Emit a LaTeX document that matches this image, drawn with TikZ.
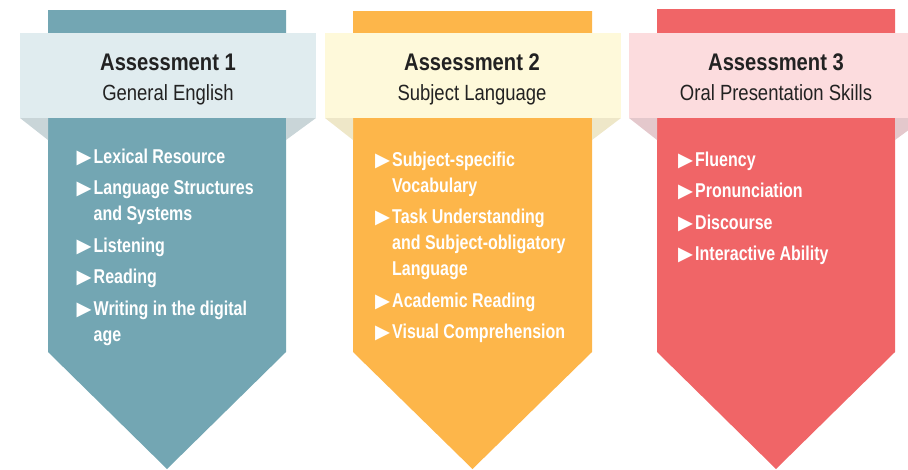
\documentclass[tikz,border=0pt]{standalone}
\usepackage{fontspec}
\setmainfont{Liberation Sans}[FakeStretch=0.84]
\newfontfamily\itemfont{Liberation Sans}[FakeStretch=0.8]
\newfontfamily\arrowfont{DejaVu Sans}
\usetikzlibrary{positioning}
\definecolor{bodyA}{HTML}{73A6B3}
\definecolor{bannerA}{HTML}{E0ECEF}
\definecolor{shadeA}{HTML}{C9D5D8}
\definecolor{bodyB}{HTML}{FDB64A}
\definecolor{bannerB}{HTML}{FEF9DA}
\definecolor{shadeB}{HTML}{EEE7C8}
\definecolor{bodyC}{HTML}{F06567}
\definecolor{bannerC}{HTML}{FCDCDE}
\definecolor{shadeC}{HTML}{E4C8CC}
\definecolor{darktext}{HTML}{222222}
\tikzset{
  head/.style={font=\bfseries\fontsize{24}{28}\selectfont,text=darktext,anchor=base},
  sub/.style={font=\fontsize{22}{26}\selectfont,text=darktext,anchor=base},
  items/.style={font=\itemfont\bfseries\fontsize{20}{26}\selectfont,text=white,align=left,
    text width=225pt,anchor=north west,inner sep=0pt},
}
% one bullet point, with the second line hanging
\newcommand{\bitem}[1]{\hangindent=17pt\hangafter=1\spaceskip=4.4pt\relax\noindent
  \makebox[17pt][l]{\arrowfont\fontsize{19.5}{26}\selectfont ▶}#1\par}

\begin{document}
\begin{tikzpicture}[x=1pt,y=-1pt]
    \clip (0,0) rectangle (908,469);
    % Assessment 1
    \fill[bodyA] (48,10) -- (286,10) -- (286,352) -- (167,469) -- (48,352) -- cycle;
    \fill[bannerA] (20,33) rectangle (316,118);
    \fill[shadeA] (20,118) -- (48,118) -- (48,140) -- cycle;
    \fill[shadeA] (286,118) -- (316,118) -- (286,140) -- cycle;
    \node[head] (head1) at (168,70) {Assessment 1};
    \node[sub] (sub1) at (168,100) {General English};
    \node[items] (list1) at (76.5,148.5) {\setlength{\parskip}{5.5pt}%
      \bitem{Lexical Resource}
      \bitem{Language Structures\newline and Systems}
      \bitem{Listening}
      \bitem{Reading}
      \bitem{Writing in the digital\newline age}};
    % Assessment 2
    \fill[bodyB] (353,11) -- (592,11) -- (592,352) -- (472.5,469) -- (353,352) -- cycle;
    \fill[bannerB] (325,33) rectangle (621,118);
    \fill[shadeB] (325,118) -- (353,118) -- (353,140) -- cycle;
    \fill[shadeB] (592,118) -- (621,118) -- (592,140) -- cycle;
    \node[head] (head2) at (472,70) {Assessment 2};
    \node[sub] (sub2) at (472,100) {Subject Language};
    \node[items] (list2) at (375,151.5) {\setlength{\parskip}{5.5pt}%
      \bitem{Subject-specific\newline Vocabulary}
      \bitem{Task Understanding\newline and Subject-obligatory\newline Language}
      \bitem{Academic Reading}
      \bitem{Visual Comprehension}};
    % Assessment 3
    \fill[bodyC] (657,9) -- (895,9) -- (895,352) -- (776,469) -- (657,352) -- cycle;
    \fill[bannerC] (629,33) rectangle (925,118);
    \fill[shadeC] (629,118) -- (657,118) -- (657,140) -- cycle;
    \fill[shadeC] (895,118) -- (925,118) -- (895,140) -- cycle;
    \node[head] (head3) at (776,70) {Assessment 3};
    \node[sub] (sub3) at (776,100) {Oral Presentation Skills};
    \node[items] (list3) at (678,151.5) {\setlength{\parskip}{5.5pt}%
      \bitem{Fluency}
      \bitem{Pronunciation}
      \bitem{Discourse}
      \bitem{Interactive Ability}};
\end{tikzpicture}
\end{document}
